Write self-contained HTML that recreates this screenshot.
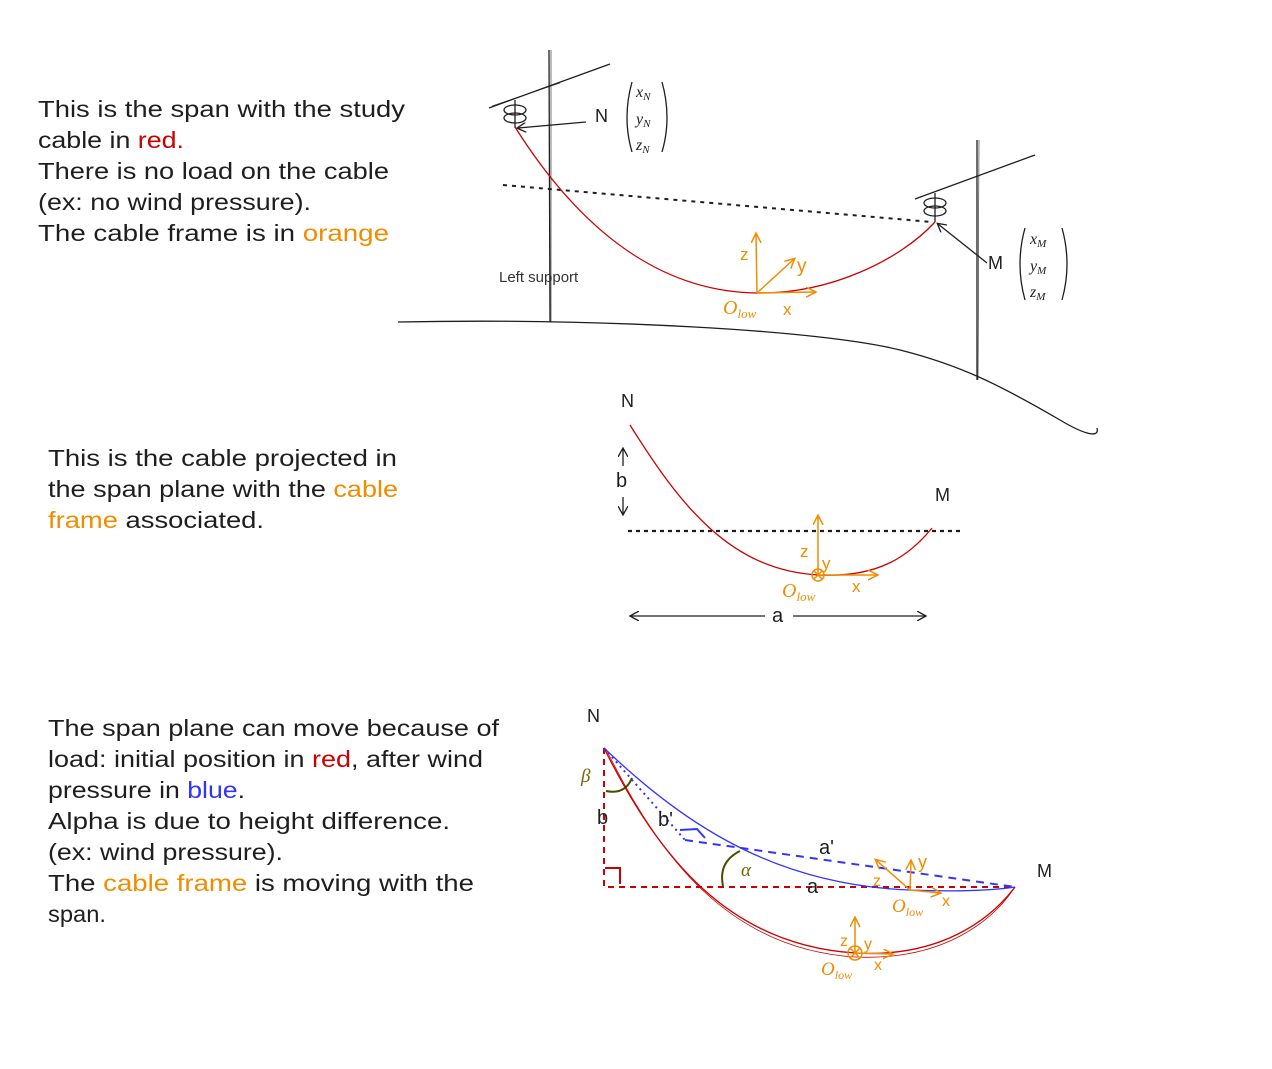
<!DOCTYPE html>
<html><head><meta charset="utf-8"><style>
html,body{margin:0;padding:0;background:#fff}
svg{display:block}
text{font-family:"Liberation Sans",sans-serif}
.t{font-size:23px;fill:#1e1e1e}
.m{font-family:"Liberation Serif",serif;font-style:italic}
</style></head><body>
<svg width="1272" height="1069" viewBox="0 0 1272 1069">
<defs>
<marker id="ab" markerWidth="10" markerHeight="10" refX="8" refY="5" orient="auto" markerUnits="userSpaceOnUse"><path d="M0,0 L9,5 L0,10" fill="none" stroke="#1e1e1e" stroke-width="1.3"/></marker>
<marker id="ao" markerWidth="12" markerHeight="12" refX="9" refY="5" orient="auto" markerUnits="userSpaceOnUse"><path d="M0,0 L10,5 L0,10" fill="none" stroke="#f08c00" stroke-width="1.5"/></marker>
</defs>

<g>
<text class="t" x="38" y="117" textLength="367" lengthAdjust="spacingAndGlyphs">This is the span with the study</text>
<text class="t" x="38" y="148" textLength="146" lengthAdjust="spacingAndGlyphs">cable in <tspan fill="#c00">red.</tspan></text>
<text class="t" x="38" y="179" textLength="351" lengthAdjust="spacingAndGlyphs">There is no load on the cable</text>
<text class="t" x="38" y="210" textLength="273" lengthAdjust="spacingAndGlyphs">(ex: no wind pressure).</text>
<text class="t" x="38" y="241" textLength="351" lengthAdjust="spacingAndGlyphs">The cable frame is in <tspan fill="#f08c00">orange</tspan></text>
</g>

<g fill="none" stroke="#1e1e1e" stroke-width="1.3">
<path d="M549,50 L550,322"/>
<path d="M551,50 L551,322" stroke-width="0.6"/>
<path d="M489,108 L610,64"/>
<path d="M492,106 L560,83" stroke-width="0.6"/>
<path d="M977,140 L977,380"/>
<path d="M979,140 L978,380" stroke-width="0.6"/>
<path d="M915,199 L1035,155"/>
<g><path d="M515,100 L515,128"/><ellipse cx="515" cy="110" rx="11" ry="5"/><ellipse cx="515" cy="118" rx="11" ry="5"/></g>
<g><path d="M935,193 L935,222"/><ellipse cx="935" cy="203" rx="11" ry="5"/><ellipse cx="935" cy="211" rx="11" ry="5"/></g>
<path d="M398,322 C600,318 820,330 900,350 C960,365 1000,385 1060,420 C1080,432 1100,440 1097,428"/>
<path d="M503,185 L932,222" stroke-dasharray="4,5" stroke-width="2"/>
<path d="M515,127 C580,230 660,292 757,293 C830,294 900,260 935,222" stroke="#c00"/>
<path d="M586,122 L518,128" marker-end="url(#ab)"/>
<path d="M987,263 L938,224" marker-end="url(#ab)"/>
<path d="M632,82 Q622,118 632,152 M662,82 Q672,118 662,152"/>
<path d="M1025,228 Q1015,264 1025,300 M1062,228 Q1072,264 1062,300"/>
</g>
<g fill="#1e1e1e">
<text x="595" y="122" font-size="18">N</text>
<text class="m" x="636" y="97" font-size="16">x<tspan font-size="11" dy="3">N</tspan></text>
<text class="m" x="636" y="124" font-size="16">y<tspan font-size="11" dy="3">N</tspan></text>
<text class="m" x="636" y="150" font-size="16">z<tspan font-size="11" dy="3">N</tspan></text>
<text x="988" y="269" font-size="18">M</text>
<text class="m" x="1030" y="244" font-size="16">x<tspan font-size="11" dy="3">M</tspan></text>
<text class="m" x="1030" y="271" font-size="16">y<tspan font-size="11" dy="3">M</tspan></text>
<text class="m" x="1030" y="297" font-size="16">z<tspan font-size="11" dy="3">M</tspan></text>
<text x="499" y="282" font-size="15" fill="#333">Left support</text>
</g>
<g stroke="#f08c00" stroke-width="1.5" fill="none">
<path d="M757,293 L756,234" marker-end="url(#ao)"/>
<path d="M757,293 L794,259" marker-end="url(#ao)"/>
<path d="M757,293 L815,292" marker-end="url(#ao)"/>
</g>
<g fill="#f08c00">
<text x="740" y="260" font-size="17">z</text><text x="797" y="272" font-size="19">y</text><text x="783" y="315" font-size="17">x</text>
<text class="m" x="723" y="314" font-size="20">O<tspan font-size="13" dy="4">low</tspan></text>
</g>

<g>
<text class="t" x="48" y="466" textLength="349" lengthAdjust="spacingAndGlyphs">This is the cable projected in</text>
<text class="t" x="48" y="497" textLength="350" lengthAdjust="spacingAndGlyphs">the span plane with the <tspan fill="#f08c00">cable</tspan></text>
<text class="t" x="48" y="528" textLength="216" lengthAdjust="spacingAndGlyphs"><tspan fill="#f08c00">frame</tspan> associated.</text>
</g>
<g fill="none" stroke="#1e1e1e" stroke-width="1.3">
<path d="M628,531 L960,531" stroke-dasharray="4,4" stroke-width="2.2"/>
<path d="M630,425 C680,505 730,570 818,575 C880,578 910,555 932,528" stroke="#c00"/>
<path d="M623,466 L623,449" marker-end="url(#ab)"/><path d="M623,497 L623,514" marker-end="url(#ab)"/>
<path d="M765,616 L631,616" marker-end="url(#ab)"/><path d="M793,616 L925,616" marker-end="url(#ab)"/>
</g>
<g fill="#1e1e1e">
<text x="621" y="407" font-size="18">N</text><text x="935" y="501" font-size="18">M</text>
<text x="616" y="487" font-size="20">b</text><text x="772" y="622" font-size="20">a</text>
</g>
<g stroke="#f08c00" stroke-width="1.5" fill="none">
<path d="M818,575 L818,516" marker-end="url(#ao)"/>
<path d="M818,575 L877,575" marker-end="url(#ao)"/>
<circle cx="818" cy="575" r="6"/><path d="M814,571 L822,579 M822,571 L814,579"/>
</g>
<g fill="#f08c00">
<text x="800" y="557" font-size="17">z</text><text x="822" y="569" font-size="17">y</text><text x="852" y="592" font-size="17">x</text>
<text class="m" x="782" y="597" font-size="20">O<tspan font-size="13" dy="4">low</tspan></text>
</g>

<g>
<text class="t" x="48" y="736" textLength="451" lengthAdjust="spacingAndGlyphs">The span plane can move because of</text>
<text class="t" x="48" y="767" textLength="435" lengthAdjust="spacingAndGlyphs">load: initial position in <tspan fill="#c00">red</tspan>, after wind</text>
<text class="t" x="48" y="798" textLength="197" lengthAdjust="spacingAndGlyphs">pressure in <tspan fill="#3333ff">blue</tspan>.</text>
<text class="t" x="48" y="829" textLength="402" lengthAdjust="spacingAndGlyphs">Alpha is due to height difference.</text>
<text class="t" x="48" y="860" textLength="235" lengthAdjust="spacingAndGlyphs">(ex: wind pressure).</text>
<text class="t" x="48" y="891" textLength="426" lengthAdjust="spacingAndGlyphs">The <tspan fill="#f08c00">cable frame</tspan> is moving with the</text>
<text class="t" x="48" y="922" textLength="58" lengthAdjust="spacingAndGlyphs">span.</text>
</g>
<g fill="none" stroke-width="1.3">
<path d="M604,748 L604,887 L1015,887" stroke="#c00" stroke-dasharray="6,5" stroke-width="2"/>
<path d="M605,868 L620,868 L620,884" stroke="#c00" stroke-width="2"/>
<path d="M604,748 C660,860 730,945 855,953 C940,958 990,920 1015,887" stroke="#c00"/>
<path d="M606,749 C662,863 732,949 855,957 C942,961 992,922 1015,887" stroke="#c00" stroke-width="0.8"/>
<path d="M604,748 C690,830 780,885 910,890 C960,892 995,890 1015,887" stroke="#3333ff"/>
<path d="M604,748 L685,840" stroke="#3333ff" stroke-dasharray="2,4" stroke-width="2"/>
<path d="M685,840 L1015,887" stroke="#3333ff" stroke-dasharray="8,6" stroke-width="2"/>
<path d="M680,830 L697,829 L705,838" stroke="#3333ff" stroke-width="2"/>
<path d="M606,791 Q625,795 632,778" stroke="#4a4a00" stroke-width="2"/>
<path d="M723,886 Q718,862 740,851" stroke="#4a4a00" stroke-width="2"/>
</g>
<g fill="#1e1e1e">
<text x="587" y="722" font-size="18">N</text><text x="1037" y="877" font-size="18">M</text>
<text x="597" y="824" font-size="20">b</text><text x="658" y="826" font-size="20">b'</text>
<text x="819" y="854" font-size="20">a'</text><text x="807" y="893" font-size="20">a</text>
<text class="m" x="581" y="782" font-size="19" fill="#6b6b00">β</text>
<text class="m" x="741" y="876" font-size="19" fill="#6b6b00">α</text>
</g>
<g stroke="#f08c00" stroke-width="1.5" fill="none">
<path d="M855,953 L855,918" marker-end="url(#ao)"/>
<path d="M855,953 L892,954" marker-end="url(#ao)"/>
<circle cx="855" cy="953" r="7"/><path d="M850,948 L860,958 M860,948 L850,958"/>
<path d="M910,890 L876,860" marker-end="url(#ao)"/>
<path d="M910,890 L911,861" marker-end="url(#ao)"/>
<path d="M910,890 L940,893" marker-end="url(#ao)"/>
</g>
<g fill="#f08c00">
<text x="840" y="946" font-size="16">z</text><text x="864" y="949" font-size="16">y</text><text x="874" y="970" font-size="16">x</text>
<text class="m" x="821" y="975" font-size="19">O<tspan font-size="12" dy="4">low</tspan></text>
<text x="873" y="886" font-size="16">z</text><text x="918" y="868" font-size="18">y</text><text x="942" y="906" font-size="16">x</text>
<text class="m" x="892" y="912" font-size="19">O<tspan font-size="12" dy="4">low</tspan></text>
</g>
</svg>
</body></html>
